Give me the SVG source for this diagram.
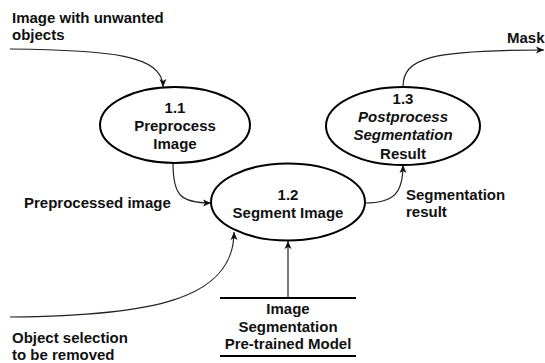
<svg xmlns="http://www.w3.org/2000/svg" width="545" height="363" viewBox="0 0 545 363">
<style>
text{font-family:"Liberation Sans",Arial,sans-serif;font-size:15px;font-weight:bold;fill:#111}
.c{text-anchor:middle}
.e{fill:#fff;stroke:#000;stroke-width:2}
.l{fill:none;stroke:#222;stroke-width:1.2}
.ds{stroke:#000;stroke-width:2}
</style>
<defs>
<marker id="ah" markerWidth="9" markerHeight="8" refX="8" refY="4" orient="auto" markerUnits="userSpaceOnUse">
<path d="M0,0.5 L8,4 L0,7.5 L2,4 z" fill="#111"/>
</marker>
</defs>
<rect width="545" height="363" fill="#fff"/>
<g id="connectors">
<path class="l" d="M10,49 C110,50 163,55 163,87" marker-end="url(#ah)"/>
<path class="l" d="M403,87 C403,58 430,50 544,50" marker-end="url(#ah)"/>
<path class="l" d="M173,163 C173,195 180,203 211,203" marker-end="url(#ah)"/>
<path class="l" d="M10,317 C150,316 234,300 234,232" marker-end="url(#ah)"/>
<path class="l" d="M288,298 L288,241" marker-end="url(#ah)"/>
<path class="l" d="M365,203 C395,203 403,192 403,165" marker-end="url(#ah)"/>
</g>
<g id="labels">
<text x="12" y="23">Image with unwanted</text>
<text x="12" y="40">objects</text>
<text x="507" y="43">Mask</text>
<text x="24" y="208">Preprocessed image</text>
<text x="406" y="200">Segmentation</text>
<text x="406" y="217">result</text>
<text x="12" y="343">Object selection</text>
<text x="12" y="360">to be removed</text>
</g>
<g id="p11">
<ellipse class="e" cx="175" cy="125" rx="75" ry="38"/>
<text class="c" x="175" y="113">1.1</text>
<text class="c" x="175" y="131">Preprocess</text>
<text class="c" x="175" y="149">Image</text>
</g>
<g id="p12">
<ellipse class="e" cx="288" cy="202" rx="77" ry="38.5"/>
<text class="c" x="288" y="200">1.2</text>
<text class="c" x="288" y="218">Segment Image</text>
</g>
<g id="p13">
<ellipse class="e" cx="403" cy="126" rx="77" ry="39"/>
<text class="c" x="403" y="104">1.3</text>
<text class="c" x="403" y="122" font-style="italic">Postprocess</text>
<text class="c" x="403" y="140" font-style="italic">Segmentation</text>
<text class="c" x="403" y="159">Result</text>
</g>
<g id="ds">
<line class="ds" x1="220" y1="298" x2="356" y2="298"/>
<line class="ds" x1="220" y1="356" x2="356" y2="356"/>
<text class="c" x="288" y="314">Image</text>
<text class="c" x="288" y="332">Segmentation</text>
<text class="c" x="288" y="349">Pre-trained Model</text>
</g>
</svg>
